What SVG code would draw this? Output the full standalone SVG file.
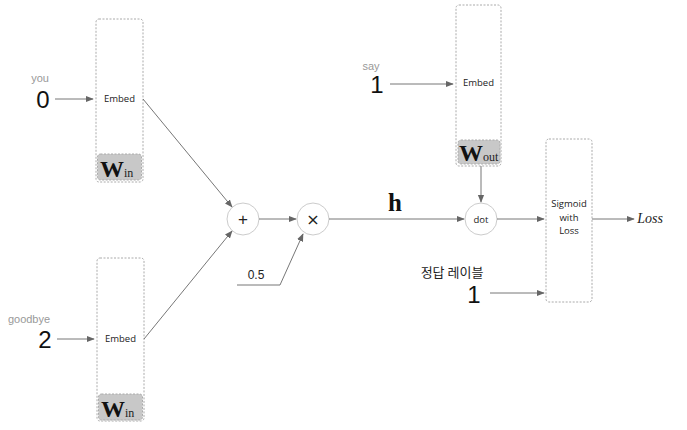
<svg xmlns="http://www.w3.org/2000/svg" width="687" height="430" viewBox="0 0 687 430">
<defs>
<marker id="ah" viewBox="0 0 10 10" refX="9" refY="5" markerWidth="8" markerHeight="8" markerUnits="userSpaceOnUse" orient="auto"><path d="M0,1 L10,5 L0,9 z" fill="#666"/></marker>
<style>
.box{fill:#fff;stroke:#aaa;stroke-width:1;stroke-dasharray:2,1.5}
.wbox{fill:#c8c8c8;stroke:#aaa;stroke-width:1;stroke-dasharray:2,1.5}
.circ{fill:#fff;stroke:#ccc;stroke-width:1}
.ln{fill:none;stroke:#777;stroke-width:1;marker-end:url(#ah)}
.sm{font-family:"Open Sans","DejaVu Sans",sans-serif;font-size:9.5px;fill:#222}
.num{font-family:"Liberation Sans",Arial,sans-serif;font-size:24px;fill:#111}
.word{font-family:"Liberation Sans",Arial,sans-serif;font-size:11px;fill:#999}
.W{font-family:"Liberation Serif","Times New Roman",serif;font-weight:bold;font-size:24px;fill:#111}
.sub{font-family:"Liberation Serif","Times New Roman",serif;font-size:12px;fill:#222}
</style>
</defs>
<rect width="687" height="430" fill="#fff"/>
<g id="embed_you">
<rect class="box" x="96" y="19" width="47" height="163" rx="3"/>
<text class="sm" x="119.5" y="102" text-anchor="middle">Embed</text>
<rect class="wbox" x="97.5" y="154" width="44" height="26" rx="3"/>
<text x="100" y="177"><tspan class="W">W</tspan><tspan class="sub">in</tspan></text>
</g>
<g id="embed_goodbye">
<rect class="box" x="97" y="258" width="47" height="163" rx="3"/>
<text class="sm" x="120.5" y="342" text-anchor="middle">Embed</text>
<rect class="wbox" x="98.5" y="394" width="44" height="26" rx="3"/>
<text x="101" y="417"><tspan class="W">W</tspan><tspan class="sub">in</tspan></text>
</g>
<g id="embed_say">
<rect class="box" x="456" y="5" width="45" height="161" rx="3"/>
<text class="sm" x="478.5" y="86" text-anchor="middle">Embed</text>
<rect class="wbox" x="458" y="140" width="42" height="24" rx="3"/>
<text x="459" y="161"><tspan class="W" font-size="22">W</tspan><tspan class="sub">out</tspan></text>
</g>
<g id="plus">
<circle class="circ" cx="243" cy="219" r="16"/>
<text x="243" y="225" text-anchor="middle" font-family="Liberation Sans,Arial,sans-serif" font-size="17" fill="#222">+</text>
</g>
<g id="times">
<circle class="circ" cx="313" cy="219" r="16"/>
<text x="313" y="225" text-anchor="middle" font-family="DejaVu Sans,sans-serif" font-size="16" fill="#222">×</text>
</g>
<g id="dot">
<circle class="circ" cx="481" cy="219" r="16"/>
<text class="sm" x="481" y="222.5" text-anchor="middle" font-size="10">dot</text>
</g>
<g id="sigmoid">
<rect class="box" x="546" y="139" width="46" height="163" rx="3"/>
<text class="sm" x="569" y="207" text-anchor="middle" font-size="8">Sigmoid</text>
<text class="sm" x="569" y="221" text-anchor="middle" font-size="8">with</text>
<text class="sm" x="569" y="234" text-anchor="middle" font-size="8">Loss</text>
</g>
<g id="labels">
<text class="word" x="40" y="82" text-anchor="middle">you</text>
<text class="num" x="43" y="108" text-anchor="middle">0</text>
<text class="word" x="29" y="323" text-anchor="middle">goodbye</text>
<text class="num" x="45" y="348" text-anchor="middle">2</text>
<text class="word" x="371" y="70" text-anchor="middle">say</text>
<text class="num" x="377" y="93" text-anchor="middle">1</text>
<text x="256" y="279" text-anchor="middle" font-family="Liberation Sans,Arial,sans-serif" font-size="12" fill="#222">0.5</text>
<text x="395" y="211" text-anchor="middle" font-family="Liberation Serif,Times New Roman,serif" font-weight="bold" font-size="25" fill="#111">h</text>
<text x="452" y="277" text-anchor="middle" font-family="Noto Sans CJK KR,sans-serif" font-size="13" fill="#222">정답 레이블</text>
<text class="num" x="474" y="303" text-anchor="middle" font-size="23">1</text>
<text x="650" y="223" text-anchor="middle" font-family="Liberation Serif,Times New Roman,serif" font-style="italic" font-size="14" fill="#222">Loss</text>
</g>
<g id="connectors">
<line class="ln" x1="55" y1="99" x2="93" y2="99"/>
<line class="ln" x1="57" y1="339" x2="94" y2="339"/>
<line class="ln" x1="390" y1="84" x2="453" y2="84"/>
<line class="ln" x1="143" y1="99" x2="232" y2="207"/>
<line class="ln" x1="144" y1="339" x2="232" y2="231"/>
<line class="ln" x1="259" y1="219" x2="296" y2="219"/>
<polyline class="ln" points="237,285 280,285 303,234"/>
<line class="ln" x1="329" y1="219" x2="464" y2="219"/>
<line class="ln" x1="481" y1="166" x2="481" y2="202"/>
<line class="ln" x1="497" y1="219" x2="544" y2="219"/>
<line class="ln" x1="592" y1="219" x2="634" y2="219"/>
<line class="ln" x1="490" y1="293" x2="544" y2="293"/>
</g>
</svg>
